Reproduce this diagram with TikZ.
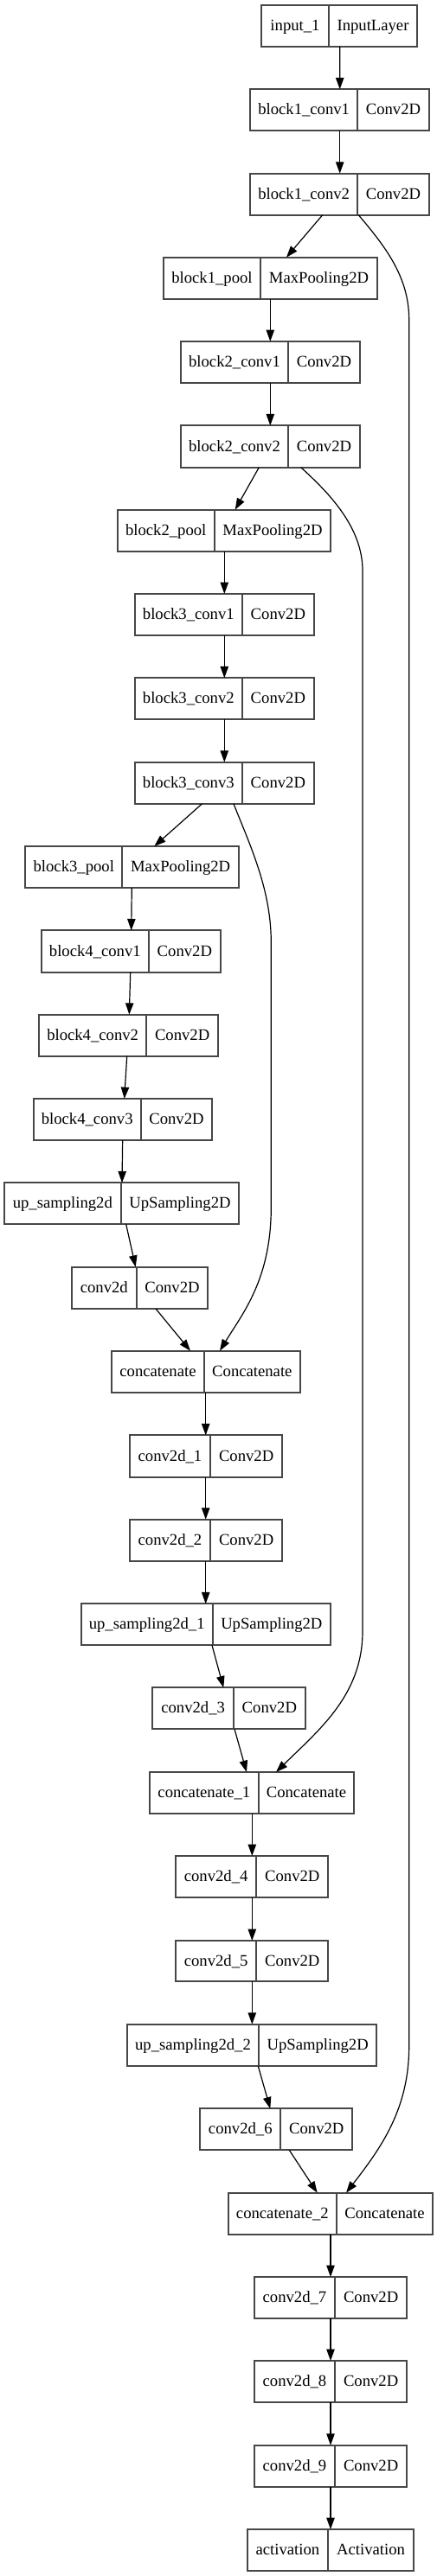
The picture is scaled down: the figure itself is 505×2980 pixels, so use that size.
\documentclass[tikz,border=0pt]{standalone}
\usepackage{fontspec}
\setmainfont{Liberation Serif}
\usetikzlibrary{arrows.meta,calc,fit}
\tikzset{
  box/.style={draw=black!72, line width=1.4pt, inner sep=0pt, outer sep=0pt},
  boxline/.style={draw=black!72, line width=1.4pt},
  lbl/.style={anchor=base, inner sep=0pt, font=\fontsize{14}{16}\selectfont},
  arr/.style={draw=black, line width=0.9pt, -{Triangle[length=10pt,width=7pt]}},
}
\newcommand\layer[8]{%
  \node[box, fit={(#2,#5) (#4,#6)}] (#1) {};
  \draw[boxline] (#3,#5) -- (#3,#6);
  \node[lbl] at ({(#2+#3)/2},{(#5+#6)/2+5.5}) {#7};
  \node[lbl] at ({(#3+#4)/2},{(#5+#6)/2+5.5}) {#8};
}
\newcommand\edge[4]{\draw[arr] ($(#1.south west)+(#2,0)$) -- ($(#3.north west)+(#4,0)$);}
\begin{document}
\begin{tikzpicture}[x=0.75pt,y=-0.75pt]
\useasboundingbox (0,0) rectangle (505,2980);
\layer{in1}{302.3}{379.7}{482.3}{5.7}{53.7}{input\_1}{InputLayer}
\layer{b1c1}{289}{413.3}{495.7}{103.3}{151}{block1\_conv1}{Conv2D}
\layer{b1c2}{289}{413.3}{495.7}{200.7}{248.7}{block1\_conv2}{Conv2D}
\layer{b1p}{189}{301}{436}{297.7}{346}{block1\_pool}{MaxPooling2D}
\layer{b2c1}{209}{333}{416}{395}{443}{block2\_conv1}{Conv2D}
\layer{b2c2}{209}{333}{416}{492.3}{540.7}{block2\_conv2}{Conv2D}
\layer{b2p}{135.7}{247.7}{382.3}{589.7}{637.7}{block2\_pool}{MaxPooling2D}
\layer{b3c1}{155.7}{280}{362.7}{687}{735}{block3\_conv1}{Conv2D}
\layer{b3c2}{155.7}{280}{362.7}{784.3}{832.3}{block3\_conv2}{Conv2D}
\layer{b3c3}{155.7}{280}{362.7}{881.7}{930}{block3\_conv3}{Conv2D}
\layer{b3p}{29.3}{141.3}{276}{979}{1027}{block3\_pool}{MaxPooling2D}
\layer{b4c1}{47.7}{172}{254.7}{1076.3}{1124.7}{block4\_conv1}{Conv2D}
\layer{b4c2}{45}{169.3}{252}{1173.7}{1221.7}{block4\_conv2}{Conv2D}
\layer{b4c3}{38.7}{162.7}{245.3}{1271}{1319}{block4\_conv3}{Conv2D}
\layer{up0}{4.7}{140}{276}{1368.3}{1416.3}{up\_sampling2d}{UpSampling2D}
\layer{c2d}{83}{157.7}{240.3}{1465.7}{1514}{conv2d}{Conv2D}
\layer{cat0}{129}{236}{346.7}{1562.7}{1611}{concatenate}{Concatenate}
\layer{c1}{149.7}{243.3}{326}{1660.3}{1708.7}{conv2d\_1}{Conv2D}
\layer{c2}{149.7}{243.3}{326}{1757.7}{1806}{conv2d\_2}{Conv2D}
\layer{up1}{93.7}{245.7}{382}{1855.3}{1903.3}{up\_sampling2d\_1}{UpSampling2D}
\layer{c3}{176.3}{270}{352.7}{1952.3}{2000.3}{conv2d\_3}{Conv2D}
\layer{cat1}{173}{298.7}{409.3}{2050}{2098}{concatenate\_1}{Concatenate}
\layer{c4}{203}{296.3}{379.3}{2147}{2195}{conv2d\_4}{Conv2D}
\layer{c5}{203}{296.3}{379.3}{2245}{2292.3}{conv2d\_5}{Conv2D}
\layer{up2}{147}{299}{435.3}{2341.7}{2390}{up\_sampling2d\_2}{UpSampling2D}
\layer{c6}{231.3}{324.3}{407.3}{2439.3}{2487.3}{conv2d\_6}{Conv2D}
\layer{cat2}{263.7}{389}{500}{2536.7}{2584.7}{concatenate\_2}{Concatenate}
\layer{c7}{293.7}{387.3}{470}{2634}{2682}{conv2d\_7}{Conv2D}
\layer{c8}{293.7}{387.3}{470}{2731}{2779}{conv2d\_8}{Conv2D}
\layer{c9}{293.7}{387.3}{470}{2828.7}{2876.7}{conv2d\_9}{Conv2D}
\layer{act}{285.7}{379}{478}{2926}{2973.7}{activation}{Activation}
% straight edges
\edge{in1}{90.4}{b1c1}{103.7}
\edge{b1c1}{103.7}{b1c2}{103.7}
\edge{b1c2}{83.7}{b1p}{142}
\edge{b1p}{123.3}{b2c1}{103.3}
\edge{b2c1}{103.3}{b2c2}{103.3}
\edge{b2c2}{90.3}{b2p}{136}
\edge{b2p}{123.6}{b3c1}{103.6}
\edge{b3c1}{103.6}{b3c2}{103.6}
\edge{b3c2}{103.6}{b3c3}{103.6}
\edge{b3c3}{77.6}{b3p}{149}
\edge{b3p}{123}{b4c1}{104}
\edge{b4c1}{103}{b4c2}{104.3}
\edge{b4c2}{101.7}{b4c3}{105}
\edge{b4c3}{103}{up0}{136.3}
\edge{up0}{141}{c2d}{73.7}
\edge{c2d}{97}{cat0}{91}
\edge{cat0}{108.7}{c1}{88}
\edge{c1}{88}{c2}{88}
\edge{c2}{88}{up1}{144}
\edge{up1}{151.3}{c3}{82}
\edge{c3}{94.7}{cat1}{112}
\edge{cat1}{118.3}{c4}{88.3}
\edge{c4}{88.3}{c5}{88.3}
\edge{c5}{88.3}{up2}{144.3}
\edge{up2}{151.3}{c6}{81}
\edge{c6}{103}{cat2}{103}
\edge{cat2}{118.3}{c7}{88.3}
\edge{c7}{88.3}{c8}{88.3}
\edge{c8}{88.3}{c9}{88.3}
\edge{c9}{88.3}{act}{96.3}
% skip connections
\draw[arr] ($(b1c2.south west)+(125.3,0)$) .. controls (445,285) and (472.7,320) .. (472.7,370)
  -- (472.7,2367) .. controls (472.7,2440) and (440,2485) .. ($(cat2.north west)+(136.3,0)$);
\draw[arr] ($(b2c2.south west)+(138.7,0)$) .. controls (380,570) and (419,610) .. (419,660)
  -- (419,1887) .. controls (419,1960) and (370,2000) .. ($(cat1.north west)+(146,0)$);
\draw[arr] ($(b3c3.south west)+(114.3,0)$) .. controls (290,980) and (313.3,1030) .. (313.3,1090)
  -- (313.3,1397) .. controls (313.3,1480) and (280,1520) .. ($(cat0.north west)+(125,0)$);
\end{tikzpicture}
\end{document}
